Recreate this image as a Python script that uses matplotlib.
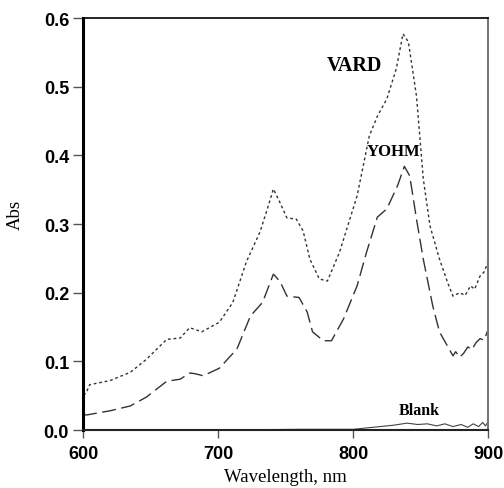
import matplotlib
matplotlib.use("Agg")
import matplotlib.pyplot as plt

# Wavelength (nm) and absorbance readings
vard_wl = [600, 602, 605, 620, 635, 647, 662, 672, 679, 688, 701, 711, 721, 731, 737, 741,
           745, 751, 758, 763, 768, 775, 781, 790, 803, 812, 818, 825, 832, 837, 841,
           847, 852, 857, 864, 870, 874, 879, 883, 887, 890, 894, 897, 900]
vard_abs = [0.052, 0.053, 0.066, 0.072, 0.084, 0.103, 0.132, 0.134, 0.149, 0.143, 0.157, 0.186,
            0.245, 0.288, 0.325, 0.351, 0.335, 0.309, 0.307, 0.290, 0.249, 0.220, 0.217, 0.259,
            0.341, 0.428, 0.457, 0.482, 0.526, 0.577, 0.565, 0.486, 0.366, 0.297, 0.249,
            0.215, 0.195, 0.200, 0.196, 0.210, 0.205, 0.224, 0.230, 0.245]

yohm_wl = [600, 603, 620, 635, 647, 662, 672, 679, 683, 689, 701, 714, 724, 733, 741, 746,
           751, 760, 766, 770, 778, 784, 793, 803, 810, 818, 825, 833, 838, 842, 847,
           852, 859, 864, 870, 874, 876, 879, 882, 885, 888, 891, 894, 897, 900]
yohm_abs = [0.022, 0.022, 0.028, 0.035, 0.048, 0.071, 0.074, 0.083, 0.082, 0.079, 0.090, 0.118,
            0.166, 0.186, 0.227, 0.216, 0.195, 0.193, 0.172, 0.143, 0.130, 0.130, 0.162, 0.210,
            0.259, 0.310, 0.322, 0.356, 0.384, 0.370, 0.307, 0.249, 0.181, 0.143, 0.122,
            0.108, 0.114, 0.106, 0.112, 0.121, 0.117, 0.127, 0.133, 0.131, 0.146]

blank_wl = [600, 700, 760, 800, 815, 830, 840, 848, 855, 862, 868, 874, 880, 885, 889, 893,
            896, 898, 900]
blank_abs = [0.000, 0.000, 0.001, 0.001, 0.004, 0.007, 0.010, 0.008, 0.009, 0.006, 0.009,
             0.005, 0.008, 0.004, 0.009, 0.005, 0.011, 0.006, 0.012]

x_ticks = [600, 700, 800, 900]
y_ticks = [0.0, 0.1, 0.2, 0.3, 0.4, 0.5, 0.6]
y_tick_labels = ["0.0", "0.1", "0.2", "0.3", "0.4", "0.5", "0.6"]

fig = plt.figure(figsize=(5.04, 4.89), dpi=100)
ax = fig.add_axes([0.1647, 0.1186, 0.8037, 0.8425])

line_col = "#333333"
ax.plot(vard_wl, vard_abs, color=line_col, lw=1.0, linestyle=(0, (2, 2)))
ax.plot(yohm_wl, yohm_abs, color=line_col, lw=1.0, linestyle=(0, (10, 4)))
ax.plot(blank_wl, blank_abs, color="#444444", lw=0.8, linestyle="-")

ax.set_xlim(600, 900)
ax.set_ylim(0, 0.6)
ax.set_xticks(x_ticks)
ax.set_yticks(y_ticks)
ax.set_yticklabels(y_tick_labels)

for lab in ax.get_xticklabels() + ax.get_yticklabels():
    lab.set_fontfamily("Liberation Sans")
    lab.set_fontweight("bold")
    lab.set_fontsize(13)
ax.tick_params(axis="y", direction="out", length=7, width=1, color="#555555", pad=3)
ax.tick_params(axis="x", direction="out", length=6, width=1, color="#555555", pad=5)

ax.spines["left"].set_linewidth(2.2)
ax.spines["left"].set_color("black")
ax.spines["bottom"].set_linewidth(1.5)
ax.spines["bottom"].set_color("#222222")
ax.spines["top"].set_linewidth(1.2)
ax.spines["top"].set_color("black")
ax.spines["right"].set_linewidth(1.5)
ax.spines["right"].set_color("#777777")

serif = "Liberation Serif"
ax.set_xlabel("Wavelength, nm", family=serif, fontsize=13.5)
ax.set_ylabel("Abs", family=serif, fontsize=13.5)
ax.xaxis.set_label_coords(0.5, -0.093)
ax.yaxis.set_label_coords(-0.146, 0.524)

ax.text(801, 0.532, "VARD", family=serif, weight="bold", fontsize=14.5, ha="center", va="center")
ax.text(830, 0.407, "YOHM", family=serif, weight="bold", fontsize=12, ha="center", va="center")
ax.text(849, 0.029, "Blank", family=serif, weight="bold", fontsize=11.5, ha="center", va="center")

fig.savefig("out.png", dpi=100)
